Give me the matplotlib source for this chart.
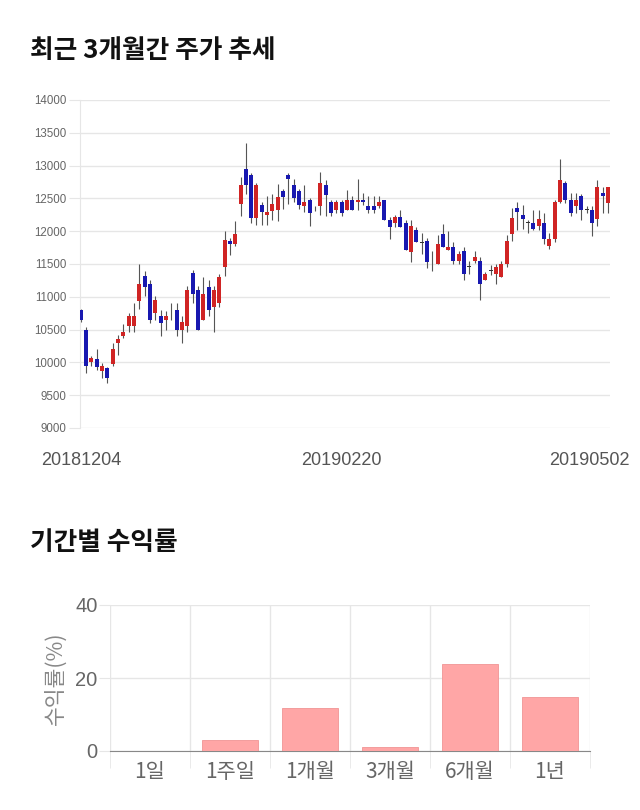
import numpy as np
import matplotlib
matplotlib.use('Agg')
import matplotlib.pyplot as plt
import matplotlib.transforms as mtransforms

# daily candles (Dec 4 2018 .. May 2 2019)
opens = [10800, 10500, 10000, 10050, 9870, 9920, 9970, 10300, 10400, 10550,
         10550, 10940, 11310, 11200, 10750, 10710, 10650, 10800, 10800, 10500,
         10550, 11360, 11100, 10650, 11150, 10850, 10900, 11450, 11850, 11800,
         12420, 12950, 12850, 12200, 12400, 12250, 12310, 12320, 12620, 12850,
         12700, 12620, 12380, 12480, 12340, 12380, 12700, 12440, 12320, 12440,
         12320, 12480, 12440, 12480, 12380, 12380, 12380, 12480, 12170, 12120,
         12220, 12120, 11680, 12020, 11830, 11850, 11530, 11500, 11950, 11710,
         11760, 11550, 11700, 11460, 11550, 11550, 11250, 11400, 11350, 11300,
         11500, 11950, 12350, 12250, 12130, 12130, 12080, 12130, 11770, 11880,
         12440, 12730, 12480, 12380, 12530, 12330, 12330, 12180, 12580, 12430]
highs = [10820, 10540, 10090, 10200, 9990, 9930, 10300, 10420, 10590, 10760,
         10900, 11500, 11400, 11250, 11010, 10800, 10780, 10900, 10900, 10700,
         11160, 11410, 11160, 11300, 11250, 11160, 11350, 12010, 11900, 12160,
         12820, 13350, 12880, 12740, 12450, 12540, 12560, 12720, 12650, 12880,
         12800, 12650, 12700, 12510, 12390, 12910, 12780, 12480, 12480, 12480,
         12630, 12530, 12800, 12580, 12530, 12530, 12530, 12480, 12220, 12250,
         12320, 12170, 12170, 12070, 11970, 11900, 11700, 11940, 12110, 12000,
         11840, 11700, 11760, 11550, 11700, 11610, 11380, 11480, 11500, 11540,
         11940, 12350, 12450, 12400, 12170, 12320, 12320, 12270, 11970, 12480,
         13100, 12760, 12580, 12580, 12560, 12380, 12380, 12780, 12680, 12680]
lows = [10620, 9840, 9940, 9890, 9760, 9690, 9940, 10120, 10370, 10460,
        10460, 10810, 11010, 10600, 10650, 10400, 10500, 10650, 10400, 10300,
        10460, 10900, 10500, 10650, 10700, 10460, 10850, 11310, 11640, 11780,
        12230, 12570, 12120, 12100, 12100, 12100, 12170, 12160, 12340, 12420,
        12440, 12340, 12300, 12080, 12310, 12250, 12230, 12230, 12270, 12230,
        12320, 12320, 12320, 12400, 12270, 12270, 12350, 12170, 11880, 12070,
        12070, 11710, 11530, 11830, 11650, 11440, 11390, 11500, 11760, 11710,
        11500, 11500, 11250, 11350, 11510, 10950, 11250, 11330, 11200, 11300,
        11450, 11850, 12020, 12040, 11980, 12020, 12020, 11800, 11730, 11830,
        12430, 12430, 12230, 12280, 12170, 12280, 11920, 12080, 12280, 12280]
closes = [10650, 9940, 10060, 9930, 9950, 9760, 10200, 10350, 10460, 10700,
          10700, 11200, 11150, 10650, 10950, 10600, 10700, 10800, 10500, 10610,
          11100, 11050, 10500, 11050, 10800, 11100, 11300, 11860, 11810, 11950,
          12700, 12700, 12200, 12700, 12300, 12300, 12420, 12520, 12520, 12800,
          12500, 12400, 12440, 12280, 12340, 12730, 12550, 12280, 12440, 12280,
          12480, 12320, 12480, 12440, 12320, 12320, 12440, 12170, 12070, 12220,
          12070, 11710, 12080, 11830, 11830, 11530, 11530, 11800, 11760, 11760,
          11550, 11650, 11350, 11460, 11600, 11200, 11350, 11400, 11450, 11500,
          11850, 12200, 12300, 12180, 12130, 12030, 12180, 11880, 11880, 12440,
          12780, 12480, 12280, 12480, 12330, 12330, 12130, 12680, 12530, 12680]
date_ticks = [0, 49, 99]
date_labels = ['20181204', '20190220', '20190502']

# returns by period
periods = ['1일', '1주일', '1개월', '3개월', '6개월', '1년']
returns = [0.0, 3.0, 11.8, 1.0, 23.7, 14.7]

KR = ['Noto Sans CJK KR', 'DejaVu Sans']
NUM = ['Liberation Sans', 'DejaVu Sans']
GRID = '#e6e6e6'

fig = plt.figure(figsize=(6.4, 8.1), dpi=100)

fig.text(30/640, 1 - 50/810, '최근 3개월간 주가 추세', family=KR, fontsize=18.5,
         fontweight='bold', va='center', ha='left', color='#111111')
fig.text(30/640, 1 - 543/810, '기간별 수익률', family=KR, fontsize=18.5,
         fontweight='bold', va='center', ha='left', color='#111111')

# candle chart
ax = fig.add_axes([80/640, 1 - 428/810, 530/640, 328/810])
o = np.array(opens)
h = np.array(highs)
l = np.array(lows)
c = np.array(closes)
x = np.arange(len(o))
colors = np.where(c > o, '#d02424', np.where(c < o, '#1818b0', '#333333'))
ax.vlines(x, l, h, color='#555555', linewidth=0.8, zorder=2)
body = np.maximum(np.abs(c - o), 12)
bottom = np.where(c == o, c - 6, np.minimum(o, c))
ax.bar(x, body, bottom=bottom, width=0.75, color=colors, linewidth=0, zorder=3)

ax.set_xlim(-0.15, len(o) - 0.6)
ax.set_ylim(9000, 14000)
ax.set_yticks(np.arange(9000, 14001, 500))
ax.grid(axis='y', color=GRID, linewidth=1)
ax.set_axisbelow(True)
for s in ['top', 'right', 'bottom']:
    ax.spines[s].set_visible(False)
ax.spines['left'].set_color(GRID)
ax.tick_params(axis='y', length=8, color=GRID, pad=2, labelsize=8.3, labelcolor='#666666')
for t in ax.get_yticklabels():
    t.set_family(NUM)
ax.set_xticks(date_ticks)
ax.set_xticklabels(date_labels)
ax.tick_params(axis='x', length=0, pad=17, labelsize=13, labelcolor='#555555')
xl = ax.get_xticklabels()
for t in xl:
    t.set_family(NUM)
xl[-1].set_ha('right')
xl[-1].set_transform(xl[-1].get_transform() +
                     mtransforms.ScaledTranslation(22/100, 0, fig.dpi_scale_trans))

# returns bar chart
bx = fig.add_axes([110/640, 1 - 751/810, 480/640, 146/810])
pos = np.arange(len(periods))
bx.bar(pos, returns, width=0.7, color='#ffa6a6', edgecolor='#f09494', linewidth=0.6, zorder=3)
bx.set_xlim(-0.5, len(periods) - 0.5)
bx.set_ylim(0, 40)
bx.set_yticks([0, 20, 40])
bx.set_xticks(pos)
bx.set_xticklabels(periods, family=KR)
bx.set_xticks(np.arange(len(periods) + 1) - 0.5, minor=True)
bx.grid(axis='y', color=GRID, linewidth=1)
bx.grid(axis='x', which='minor', color=GRID, linewidth=1)
bx.set_axisbelow(True)
for s in ['top', 'right', 'left']:
    bx.spines[s].set_visible(False)
bx.spines['bottom'].set_color('#888888')
bx.tick_params(axis='y', length=8, color=GRID, pad=1, labelsize=14.5, labelcolor='#666666')
for t in bx.get_yticklabels():
    t.set_family(NUM)
bx.tick_params(axis='x', which='major', length=0, pad=7, labelsize=15, labelcolor='#666666')
bx.tick_params(axis='x', which='minor', length=12, color=GRID)
bx.set_ylabel('수익률(%)', family=KR, fontsize=15.5, color='#888888', labelpad=6)

fig.savefig('out.png', dpi=100)
